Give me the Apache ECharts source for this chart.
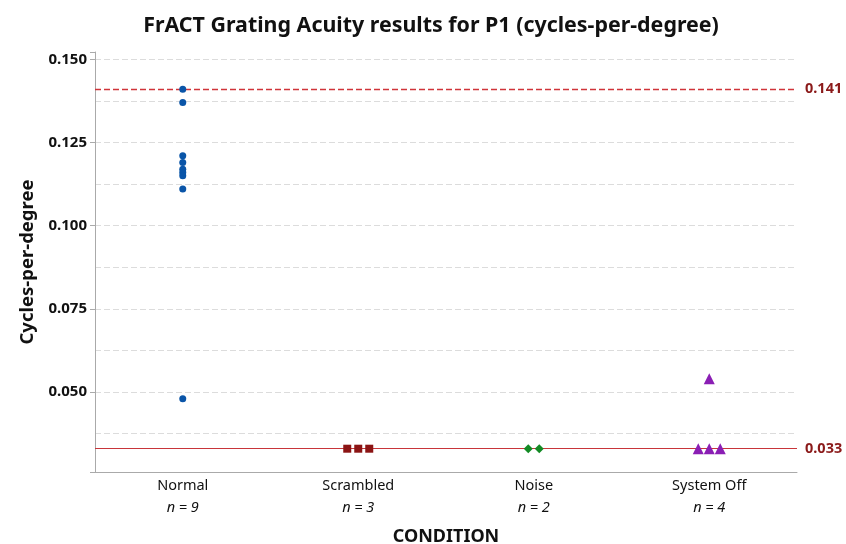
<!DOCTYPE html>
<html><head><meta charset="utf-8">
<script src="https://cdn.jsdelivr.net/npm/echarts@6/dist/echarts.min.js"></script>
<style>html,body{margin:0;padding:0;background:#fff}#c{width:846px;height:544px}</style>
</head><body><div id="c"></div>
<script>
const categories = ['Normal', 'Scrambled', 'Noise', 'System Off'];
const normalVals = [0.141, 0.137, 0.121, 0.119, 0.117, 0.116, 0.115, 0.111, 0.048];
const scrambledVals = [0.033, 0.033, 0.033];
const noiseVals = [0.033, 0.033];
const systemOffVals = [0.054, 0.033, 0.033, 0.033];
const refLines = [0.141, 0.033];
const yTicks = [0.050, 0.075, 0.100, 0.125, 0.150];

const groups = [normalVals, scrambledVals, noiseVals, systemOffVals];
const colors = ['#0a55a8', '#8b1414', '#138a24', '#8a1eb4'];
const symbols = ['circle', 'rect', 'diamond', 'triangle'];
const sizes = [7, 8, 9, 11];
const STEP = 0.0627; // horizontal dodge step in category units

function dodge(vals, ci) {
  const counts = {};
  vals.forEach(v => counts[v] = (counts[v] || 0) + 1);
  const seen = {};
  return vals.map(v => {
    const k = seen[v] || 0; seen[v] = k + 1;
    const off = (k - (counts[v] - 1) / 2) * STEP;
    return [ci + off, v];
  });
}

const FONT = '"Noto Sans", sans-serif';
const series = groups.map((g, i) => ({
  type: 'scatter', xAxisIndex: 1, name: categories[i],
  data: dodge(g, i), symbol: symbols[i], symbolSize: sizes[i],
  itemStyle: { color: colors[i], opacity: 1 }, z: 5
}));
series.push({
  type: 'line', xAxisIndex: 1, data: [], silent: true, z: 4,
  markLine: {
    silent: true, symbol: 'none', precision: 3,
    label: { position: 'end', color: '#8b1a1a', fontWeight: 'bold', fontSize: 14.5, fontFamily: FONT, distance: 8, formatter: p => p.value.toFixed(3) },
    data: [
      { yAxis: refLines[0], lineStyle: { color: '#d0343a', type: [6, 3], width: 1.3, opacity: 1 } },
      { yAxis: refLines[1], lineStyle: { color: '#c8353a', type: 'solid', width: 1.2, opacity: 1 } }
    ]
  }
});

const chart = echarts.init(document.getElementById('c'));
chart.setOption({
  animation: false,
  textStyle: { fontFamily: FONT },
  title: { text: 'FrACT Grating Acuity results for P1 (cycles-per-degree)', left: 426, textAlign: 'center', top: 10,
    textStyle: { fontSize: 21.4, fontWeight: 'bold', color: '#111', fontFamily: FONT } },
  grid: { left: 95, right: 49, top: 52, bottom: 72, outerBoundsMode: 'none', containLabel: false },
  xAxis: [
    { type: 'category', data: categories, boundaryGap: true,
      axisLine: { lineStyle: { color: '#aaa' } },
      axisTick: { alignWithLabel: true, length: 5, lineStyle: { color: '#aaa' } },
      axisLabel: { margin: 3, formatter: (v, i) => `{a|${v}}\n{b|n = ${groups[i].length}}`,
        rich: { a: { fontSize: 14.5, color: '#111', lineHeight: 22, fontFamily: FONT },
                b: { fontSize: 14.5, color: '#111', fontStyle: 'italic', lineHeight: 22, fontFamily: FONT } } },
      name: 'CONDITION', nameLocation: 'middle', nameGap: 56,
      nameTextStyle: { fontSize: 18, fontWeight: 'bold', color: '#111', fontFamily: FONT } },
    { type: 'value', min: -0.5, max: 3.5, show: false }
  ],
  yAxis: {
    type: 'value', min: 0.026, max: 0.1522, minInterval: 0.025, maxInterval: 0.025,
    axisLine: { show: true, onZero: false, lineStyle: { color: '#aaa' } },
    axisTick: { show: true, length: 5, lineStyle: { color: '#aaa' } },
    axisLabel: { fontSize: 15, fontWeight: 'bold', color: '#111', fontFamily: FONT, margin: 8,
      formatter: v => yTicks.some(t => Math.abs(t - v) < 1e-6) ? v.toFixed(3) : '' },
    splitLine: { show: true, showMinLine: false, showMaxLine: false, lineStyle: { color: '#dcdcdc', type: [6, 3] } },
    minorTick: { show: false, splitNumber: 2 },
    minorSplitLine: { show: true, lineStyle: { color: '#dcdcdc', type: [6, 3] } },
    name: 'Cycles-per-degree', nameLocation: 'middle', nameGap: 58,
    nameTextStyle: { fontSize: 18.5, fontWeight: 'bold', color: '#111', fontFamily: FONT }
  },
  series: series
});
</script></body></html>
